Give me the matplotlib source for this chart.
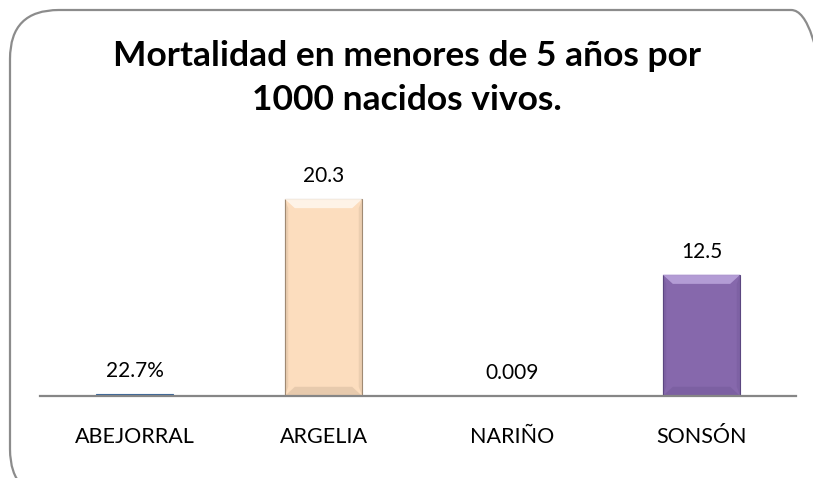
import matplotlib
matplotlib.use("Agg")
import matplotlib.pyplot as plt
from matplotlib.patches import FancyBboxPatch, Polygon

plt.rcParams['font.family'] = ['Lato', 'DejaVu Sans']

municipios = ["ABEJORRAL", "ARGELIA", "NARIÑO", "SONSÓN"]
valores = [0.227, 20.3, 0.009, 12.5]
etiquetas = ["22.7%", "20.3", "0.009", "12.5"]
colores = ["#4F81BD", "#FCDDBE", "#F0F0F0", "#8668AC"]
bordes = ["#3A6699", "#A08A73", "#BBBBBB", "#5B4680"]
claros = ["#7FA6D8", "#FFF6EC", "#FFFFFF", "#B9A2DA"]

fig = plt.figure(figsize=(8.13, 4.78), dpi=100)
W, H = 813, 478

# rounded frame (cropped at right and bottom like the source)
frame = FancyBboxPatch((10 / W, -20 / H), 830 / W, 488 / H,
                       boxstyle="round,pad=0,rounding_size=0.06",
                       transform=fig.transFigure, facecolor="none",
                       edgecolor="#8C8C8C", linewidth=1.6, mutation_aspect=W / H,
                       zorder=-1)
fig.patches.append(frame)

ax = fig.add_axes([40 / W, 1 - 396 / H, 756 / W, 233 / H])
ax.set_facecolor("none")
x = range(len(municipios))
bars = ax.bar(x, valores, width=0.41, color=colores, edgecolor=bordes, linewidth=0.8, zorder=2)

# simple bevel: lighter top edge, darker bottom and sides
for b, c in zip(bars, claros):
    h = b.get_height()
    if h < 1:
        continue
    x0, w = b.get_x(), b.get_width()
    bw, bh = w * 0.13, 0.95
    top = Polygon([(x0, h), (x0 + w, h), (x0 + w - bw, h - bh), (x0 + bw, h - bh)],
                  closed=True, facecolor=c, edgecolor="none", alpha=0.9, zorder=3)
    ax.add_patch(top)
    bot = Polygon([(x0, 0), (x0 + w, 0), (x0 + w - bw, bh), (x0 + bw, bh)],
                  closed=True, facecolor=b.get_edgecolor(), alpha=0.22, edgecolor="none", zorder=3)
    ax.add_patch(bot)
    for xs in ([x0, x0 + bw * 0.35], [x0 + w, x0 + w - bw * 0.35]):
        side = Polygon([(xs[0], 0), (xs[0], h), (xs[1], h - bh), (xs[1], bh)],
                       closed=True, facecolor=b.get_edgecolor(), alpha=0.18, edgecolor="none", zorder=3)
        ax.add_patch(side)

for i, (v, t) in enumerate(zip(valores, etiquetas)):
    ax.text(i, v + 1.3, t, ha="center", va="bottom", fontsize=15, color="#000000")

ax.set_xlim(-0.5, len(municipios) - 0.5)
ax.set_ylim(0, 24)
ax.set_xticks(list(x))
ax.set_xticklabels(municipios, fontsize=15.5)
ax.tick_params(axis="x", length=0, pad=22)
ax.set_yticks([])
for s in ["top", "right", "left"]:
    ax.spines[s].set_visible(False)
ax.spines["bottom"].set_color("#868686")
ax.spines["bottom"].set_linewidth(1.6)
ax.spines["bottom"].set_zorder(4)

fig.text(0.5, 1 - 78 / H, "Mortalidad en menores de 5 años por\n1000 nacidos vivos.",
         ha="center", va="center", fontsize=25.5, fontweight="bold", linespacing=1.45)

fig.savefig("out.png", dpi=100)
